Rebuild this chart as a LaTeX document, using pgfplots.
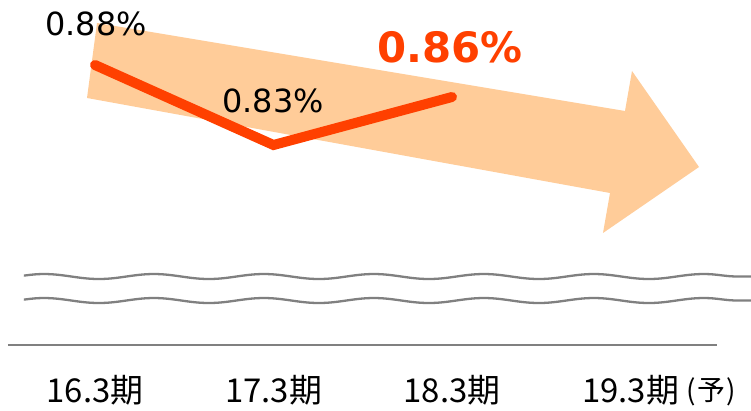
\documentclass[border=0pt]{standalone}
\usepackage{pgfplots}
\pgfplotsset{compat=1.18}
\usepackage{fontspec}
\usetikzlibrary{decorations.pathmorphing}
\newfontfamily\cjk{Noto Sans CJK JP}
\newfontfamily\dv{DejaVu Sans}
\definecolor{arrowfill}{RGB}{255,204,153}
\definecolor{lineor}{RGB}{255,64,0}
\definecolor{brk}{RGB}{128,128,128}
\begin{document}
\begin{tikzpicture}
\begin{axis}[
  scale only axis, width=751bp, height=345bp,
  xmin=-0.5322, xmax=3.6751, ymin=0.705, ymax=0.920625,
  axis x line*=bottom, axis y line=none,
  x axis line style={draw=none},
  xtick={0,1,2,3},
  xticklabels={16.3期,17.3期,18.3期,{19.3期\rlap{\hspace{8bp}\raisebox{2bp}{\fontsize{28}{30}\selectfont (\hspace{1bp}予\hspace{1bp})}}}},
  major tick length=0pt,
  xticklabel style={font=\cjk\fontsize{33}{36}\selectfont, anchor=base, yshift=-57bp, text=black},
  clip=false,
]
% bounding area
\path (axis cs:-0.5322,0.66375) rectangle (axis cs:3.6751,0.920625);
% background arrow
\fill[arrowfill] (axis cs:0.0112,0.90625) -- (axis cs:2.9692,0.85125) -- (axis cs:3.0084,0.87625)
  -- (axis cs:3.3838,0.81625) -- (axis cs:2.8459,0.775) -- (axis cs:2.8852,0.80)
  -- (axis cs:-0.0448,0.859375) -- cycle;
% series
\addplot[color=lineor, line width=10bp, line cap=round, line join=miter] coordinates {(0,0.88) (1,0.83) (2,0.86)};
% data labels
\node[font=\dv\fontsize{32}{34}\selectfont, text=black, inner sep=0pt] at (axis cs:0.0056,0.905625) {0.88\%};
\node[font=\dv\fontsize{32}{34}\selectfont, text=black, inner sep=0pt] at (axis cs:0.9972,0.8575) {0.83\%};
\node[font=\dv\bfseries\fontsize{42}{46}\selectfont, text=lineor, inner sep=0pt] at (axis cs:1.9888,0.89125) {0.86\%};
% axis break marks
\begin{scope}
\clip (axis cs:-0.3978,0.72) rectangle (axis cs:3.6751,0.76);
\draw[brk, line width=2.3bp, decorate, decoration={snake, amplitude=2.5bp, segment length=110bp}]
  (axis cs:-0.479,0.7478) -- (axis cs:3.8347,0.7478);
\draw[brk, line width=2.3bp, decorate, decoration={snake, amplitude=2.5bp, segment length=110bp}]
  (axis cs:-0.479,0.7328) -- (axis cs:3.8347,0.7328);
\end{scope}
% baseline
\draw[brk, line width=2bp] (axis cs:-0.4874,0.705) -- (axis cs:3.4846,0.705);
\end{axis}
\end{tikzpicture}
\end{document}
